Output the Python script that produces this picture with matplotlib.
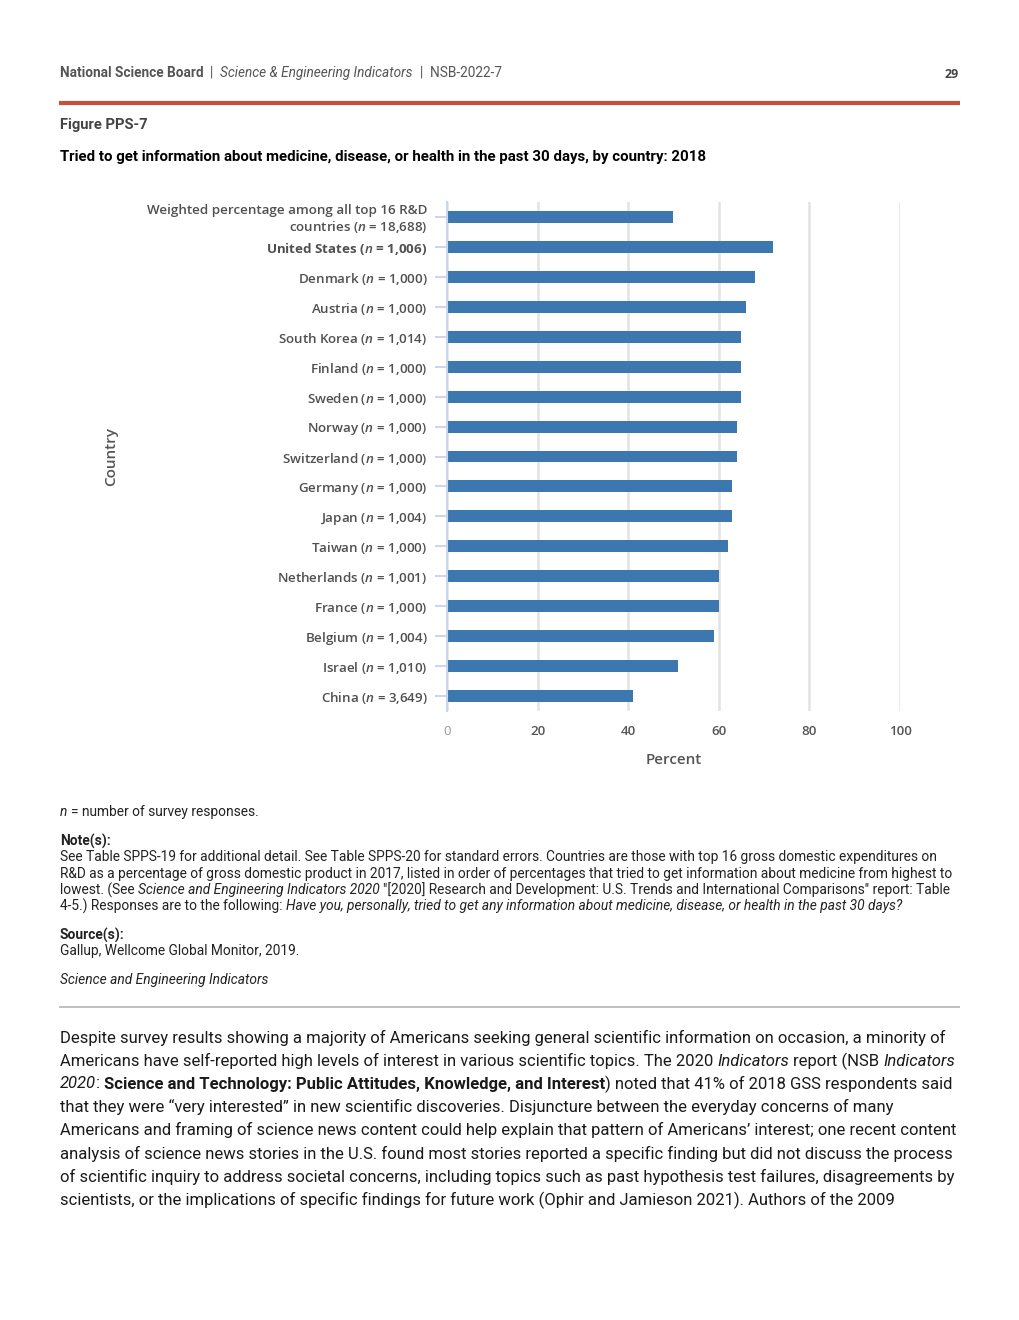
import matplotlib
matplotlib.use("Agg")
import matplotlib.pyplot as plt

plt.rcParams['mathtext.fontset'] = 'custom'
plt.rcParams['mathtext.rm'] = 'Open Sans:weight=600'
plt.rcParams['mathtext.it'] = 'Open Sans:italic:weight=600'
plt.rcParams['mathtext.bf'] = 'Open Sans:bold'

# ---- data ----
countries = ["Weighted percentage among all top 16 R&D\ncountries", "United States", "Denmark", "Austria",
             "South Korea", "Finland", "Sweden", "Norway", "Switzerland", "Germany", "Japan",
             "Taiwan", "Netherlands", "France", "Belgium", "Israel", "China"]
n_values = ["18,688", "1,006", "1,000", "1,000", "1,014", "1,000", "1,000", "1,000", "1,000",
            "1,000", "1,004", "1,000", "1,001", "1,000", "1,004", "1,010", "3,649"]
percent = [50, 72, 68, 66, 65, 65, 65, 64, 64, 63, 63, 62, 60, 60, 59, 51, 41]
x_ticks = [0, 20, 40, 60, 80, 100]

W, H = 1020, 1320
fig = plt.figure(figsize=(W / 100, H / 100), dpi=100)
renderer = fig.canvas.get_renderer()

BODY = "Roboto"


def fy(y):
    return 1 - y / H


def space_width(size, weight, style, family):
    t1 = fig.text(0, 0, "a a", fontsize=size, fontweight=weight, fontstyle=style, family=family)
    t2 = fig.text(0, 0, "aa", fontsize=size, fontweight=weight, fontstyle=style, family=family)
    w = t1.get_window_extent(renderer).width - t2.get_window_extent(renderer).width
    t1.remove(); t2.remove()
    return w


def draw_line(y, segments, x0=60, size=9.5, color="#222222", family=BODY):
    x = x0
    for text, st in segments:
        weight = "bold" if "b" in st else "normal"
        style = "italic" if "i" in st else "normal"
        sw = space_width(size, weight, style, family)
        lead = len(text) - len(text.lstrip(" "))
        trail = len(text) - len(text.rstrip(" "))
        core = text.strip(" ")
        x += lead * sw
        if core:
            t = fig.text(x / W, fy(y), core, fontsize=size, fontweight=weight, fontstyle=style,
                         family=family, color=color, va="center", ha="left")
            x += t.get_window_extent(renderer).width
        x += trail * sw


# ---- header ----
draw_line(73, [("National Science Board", "b"), ("  |  ", ""), ("Science & Engineering Indicators", "i"),
               ("  |  NSB-2022-7", "")], size=9.8, color="#555555")
fig.text(959 / W, fy(74), "29", fontsize=9, fontweight="bold", family="Open Sans", color="#444444",
         ha="right", va="center")
fig.add_artist(plt.Line2D([59 / W, 960 / W], [fy(103), fy(103)], color="#c4533e", linewidth=3,
                          solid_capstyle="butt"))
draw_line(125, [("Figure PPS-7", "b")], size=10.6, color="#444444")
draw_line(157, [("Tried to get information about medicine, disease, or health in the past 30 days, by country: 2018", "b")],
          size=10.85, color="#000000")

# ---- chart ----
ax_l, ax_r, ax_t, ax_b = 447, 900, 202, 711
ax = fig.add_axes([ax_l / W, 1 - ax_b / H, (ax_r - ax_l) / W, (ax_b - ax_t) / H])
ypos = list(range(len(countries)))
ax.barh(ypos, percent, height=0.4, color="#3c77b0", zorder=3)
ax.set_ylim(len(countries) - 0.5, -0.5)
ax.set_xlim(0, 100)
ax.set_xticks(x_ticks)
ax.set_xticklabels([str(v) for v in x_ticks])
for lab in ax.get_xticklabels():
    lab.set_fontfamily("Open Sans")
    lab.set_fontweight(600)
    lab.set_fontsize(9.5)
    lab.set_color("#555555")
ax.get_xticklabels()[0].set_color("#999999")
ax.get_xticklabels()[0].set_fontweight("normal")
ax.tick_params(axis="x", length=0, pad=10)
ax.grid(axis="x", color="#e3e3e3", linewidth=1.8, zorder=0)
for s in ["top", "right", "bottom"]:
    ax.spines[s].set_visible(False)
ax.spines["left"].set_color("#ccd6eb")
ax.spines["left"].set_linewidth(1.5)
ax.spines["left"].set_zorder(4)

labels = [f"{c} ($n$ = {n})" for c, n in zip(countries, n_values)]
ax.set_yticks(ypos)
ax.set_yticklabels(labels, fontfamily="Open Sans", fontweight=600, fontsize=9.6, color="#505050",
                   multialignment="right", linespacing=1.1)
ax.get_yticklabels()[1].set_fontweight("bold")
ax.tick_params(axis="y", length=9, width=1.5, color="#ccd6eb", pad=5)

fig.text((ax_l + ax_r) / 2 / W, fy(760), "Percent", fontsize=11, fontweight=600, family="Open Sans",
         color="#555555", ha="center", va="center")
fig.text(111 / W, fy(457), "Country", fontsize=11, fontweight=600, family="Open Sans", color="#555555",
         ha="center", va="center", rotation=90)

# ---- notes ----
NS = 9.9
NC = "#222222"
draw_line(812, [("n", "i"), (" = number of survey responses.", "")], size=NS, color=NC)
draw_line(841, [("Note(s):", "b")], size=NS, color=NC)
draw_line(857, [("See Table SPPS-19 for additional detail. See Table SPPS-20 for standard errors. Countries are those with top 16 gross domestic expenditures on", "")], size=NS, color=NC)
draw_line(874, [("R&D as a percentage of gross domestic product in 2017, listed in order of percentages that tried to get information about medicine from highest to", "")], size=NS, color=NC)
draw_line(890, [("lowest. (See ", ""), ("Science and Engineering Indicators 2020", "i"),
                (" \"[2020] Research and Development: U.S. Trends and International Comparisons\" report: Table", "")], size=NS, color=NC)
draw_line(906, [("4-5.) Responses are to the following: ", ""),
                ("Have you, personally, tried to get any information about medicine, disease, or health in the past 30 days?", "i")], size=NS, color=NC)
draw_line(935, [("Source(s):", "b")], size=NS, color=NC)
draw_line(951, [("Gallup, Wellcome Global Monitor, 2019.", "")], size=NS, color=NC)
draw_line(980, [("Science and Engineering Indicators", "i")], size=NS, color=NC)
fig.add_artist(plt.Line2D([59 / W, 960 / W], [fy(1007), fy(1007)], color="#b5b5b5", linewidth=1.2,
                          solid_capstyle="butt"))

# ---- body ----
BS = 12
BC = "#1a1a1a"
body = [
    (1038, [("Despite survey results showing a majority of Americans seeking general scientific information on occasion, a minority of", "")]),
    (1061, [("Americans have self-reported high levels of interest in various scientific topics. The 2020 ", ""), ("Indicators", "i"),
            (" report (NSB ", ""), ("Indicators", "i")]),
    (1084, [("2020", "i"), (": ", ""), ("Science and Technology: Public Attitudes, Knowledge, and Interest", "b"),
            (") noted that 41% of 2018 GSS respondents said", "")]),
    (1107, [("that they were \u201cvery interested\u201d in new scientific discoveries. Disjuncture between the everyday concerns of many", "")]),
    (1130, [("Americans and framing of science news content could help explain that pattern of Americans\u2019 interest; one recent content", "")]),
    (1154, [("analysis of science news stories in the U.S. found most stories reported a specific finding but did not discuss the process", "")]),
    (1177, [("of scientific inquiry to address societal concerns, including topics such as past hypothesis test failures, disagreements by", "")]),
    (1200, [("scientists, or the implications of specific findings for future work (Ophir and Jamieson 2021). Authors of the 2009", "")]),
]
for y, segs in body:
    draw_line(y, segs, size=BS, color=BC)

fig.savefig("out.png", dpi=100, facecolor="white")
